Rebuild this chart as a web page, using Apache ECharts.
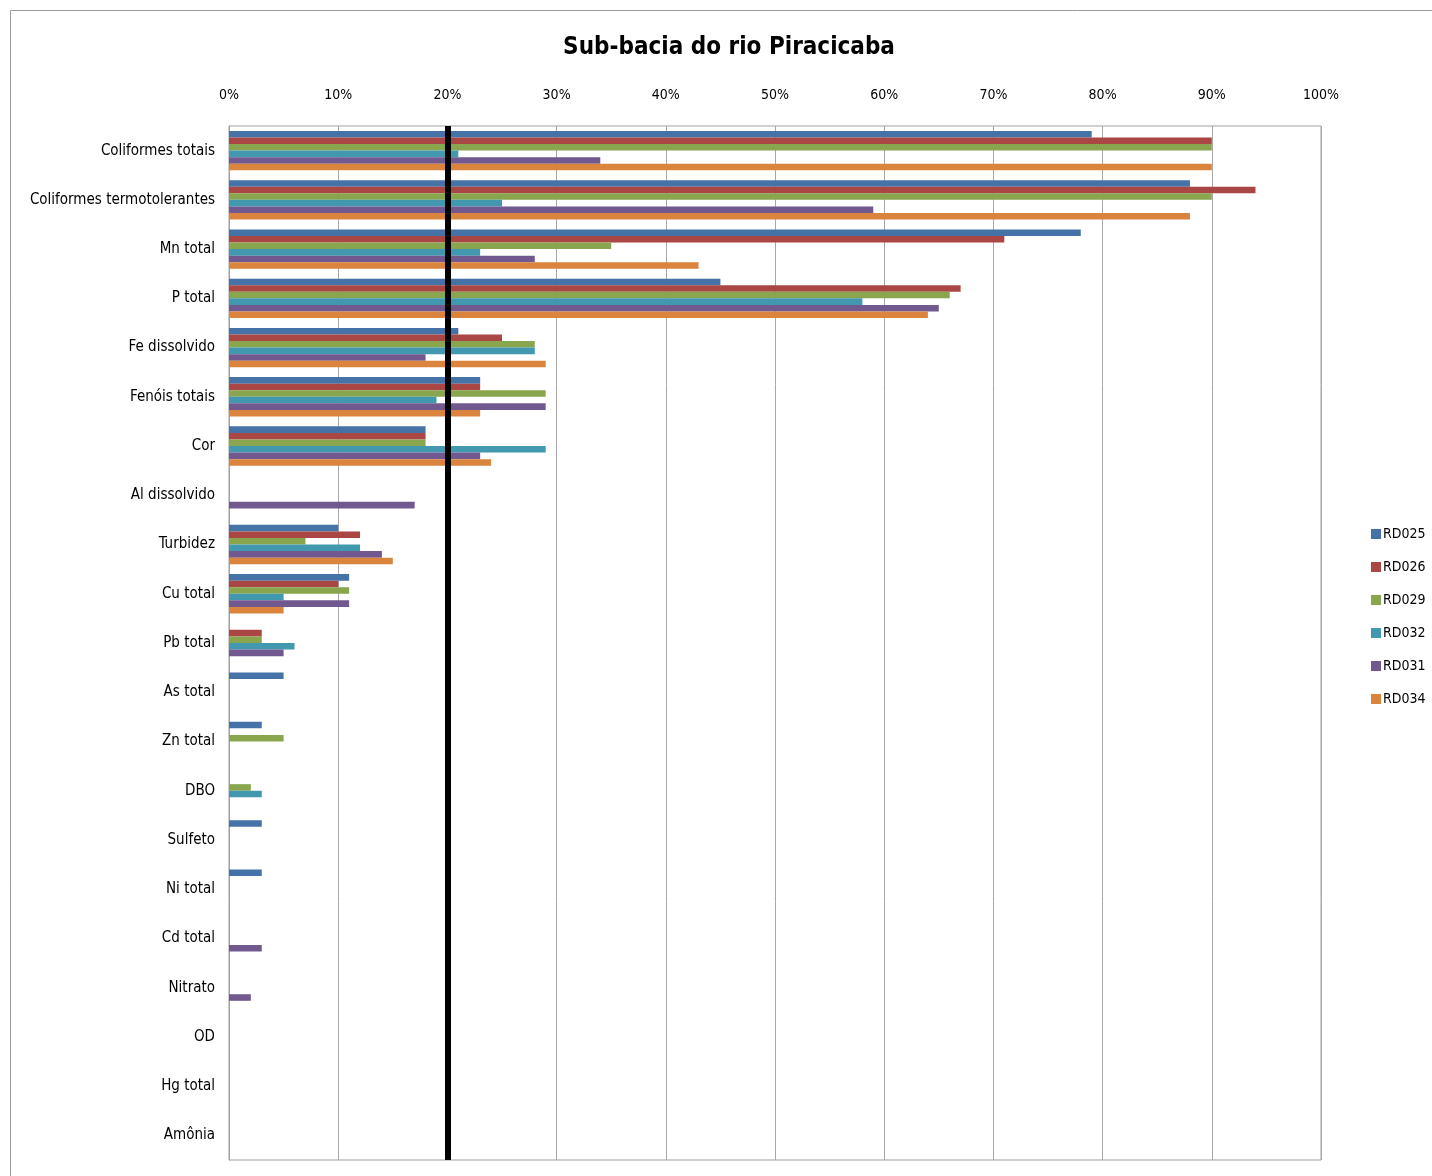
<!DOCTYPE html>
<html>
<head>
<meta charset="utf-8">
<script src="https://cdn.jsdelivr.net/npm/echarts@6/dist/echarts.min.js"></script>
<style>html,body{margin:0;padding:0;background:#fff}#c{width:1432px;height:1176px}</style>
</head>
<body>
<div id="c"></div>
<script>
const categories = ["Coliformes totais","Coliformes termotolerantes","Mn total","P total","Fe dissolvido","Fenóis totais","Cor","Al dissolvido","Turbidez","Cu total","Pb total","As total","Zn total","DBO","Sulfeto","Ni total","Cd total","Nitrato","OD","Hg total","Amônia"];
const seriesNames = ["RD025","RD026","RD029","RD032","RD031","RD034"];
const RD025 = [79,88,78,45,21,23,18,0,10,11,0,5,3,0,3,3,0,0,0,0,0];
const RD026 = [90,94,71,67,25,23,18,0,12,10,3,0,0,0,0,0,0,0,0,0,0];
const RD029 = [90,90,35,66,28,29,18,0,7,11,3,0,5,2,0,0,0,0,0,0,0];
const RD032 = [21,25,23,58,28,19,29,0,12,5,6,0,0,3,0,0,0,0,0,0,0];
const RD031 = [34,59,28,65,18,29,23,17,14,11,5,0,0,0,0,0,3,2,0,0,0];
const RD034 = [90,88,43,64,29,23,24,0,15,5,0,0,0,0,0,0,0,0,0,0,0];
const seriesData = [RD025,RD026,RD029,RD032,RD031,RD034];
const colors = ["#4572A7","#AA4643","#89A54E","#4198AF","#71588F","#DB843D"];
const xTicks = [0,10,20,30,40,50,60,70,80,90,100];
const referenceLine = 20;

const FONT = '"Liberation Sans Narrow","DejaVu Sans Condensed","Liberation Sans",sans-serif';
const chart = echarts.init(document.getElementById('c'), null, {renderer:'canvas'});
const series = seriesNames.map((n,i)=>({
  name:n, type:'bar', data:seriesData[i],
  itemStyle:{color:colors[i]},
  barGap:'0%', barCategoryGap:'20%',
  markLine: i===0 ? {silent:true, symbol:['none','none'], label:{show:false},
    lineStyle:{color:'#000', width:6, type:'solid'}, data:[{xAxis:referenceLine}]} : undefined
}));
chart.setOption({
  animation:false,
  backgroundColor:'#fff',
  color:colors,
  title:{text:'Sub-bacia do rio Piracicaba', left:724, top:31, textAlign:'center',
    textStyle:{fontFamily:FONT, fontSize:24, fontWeight:'bold', color:'#000'}},
  graphic:[{type:'rect', shape:{x:10.5,y:10.5,width:1500,height:1300}, style:{fill:'none', stroke:'#9a9a9a', lineWidth:1}, silent:true}],
  legend:{orient:'vertical', left:1366, top:522, itemGap:19, itemWidth:10, itemHeight:10,
    icon:'rect', textStyle:{fontFamily:FONT, fontSize:14, color:'#000', padding:[0,0,0,-3]}, data:seriesNames},
  grid:{left:229, right:111, top:126, bottom:16, show:true, borderColor:'#a0a0a0', borderWidth:1},
  xAxis:{type:'value', position:'top', min:0, max:100, interval:10,
    axisLine:{show:false}, axisTick:{show:false},
    splitLine:{show:true, lineStyle:{color:'#a8a8a8', width:1}},
    axisLabel:{margin:24, formatter:v=>v+'%', fontFamily:FONT, fontSize:14, color:'#000'}},
  yAxis:{type:'category', data:categories, inverse:true,
    axisLine:{show:true, lineStyle:{color:'#a0a0a0'}}, axisTick:{show:false},
    axisLabel:{margin:14, fontFamily:FONT, fontSize:15, color:'#000'}},
  series:series
});
</script>
</body>
</html>
